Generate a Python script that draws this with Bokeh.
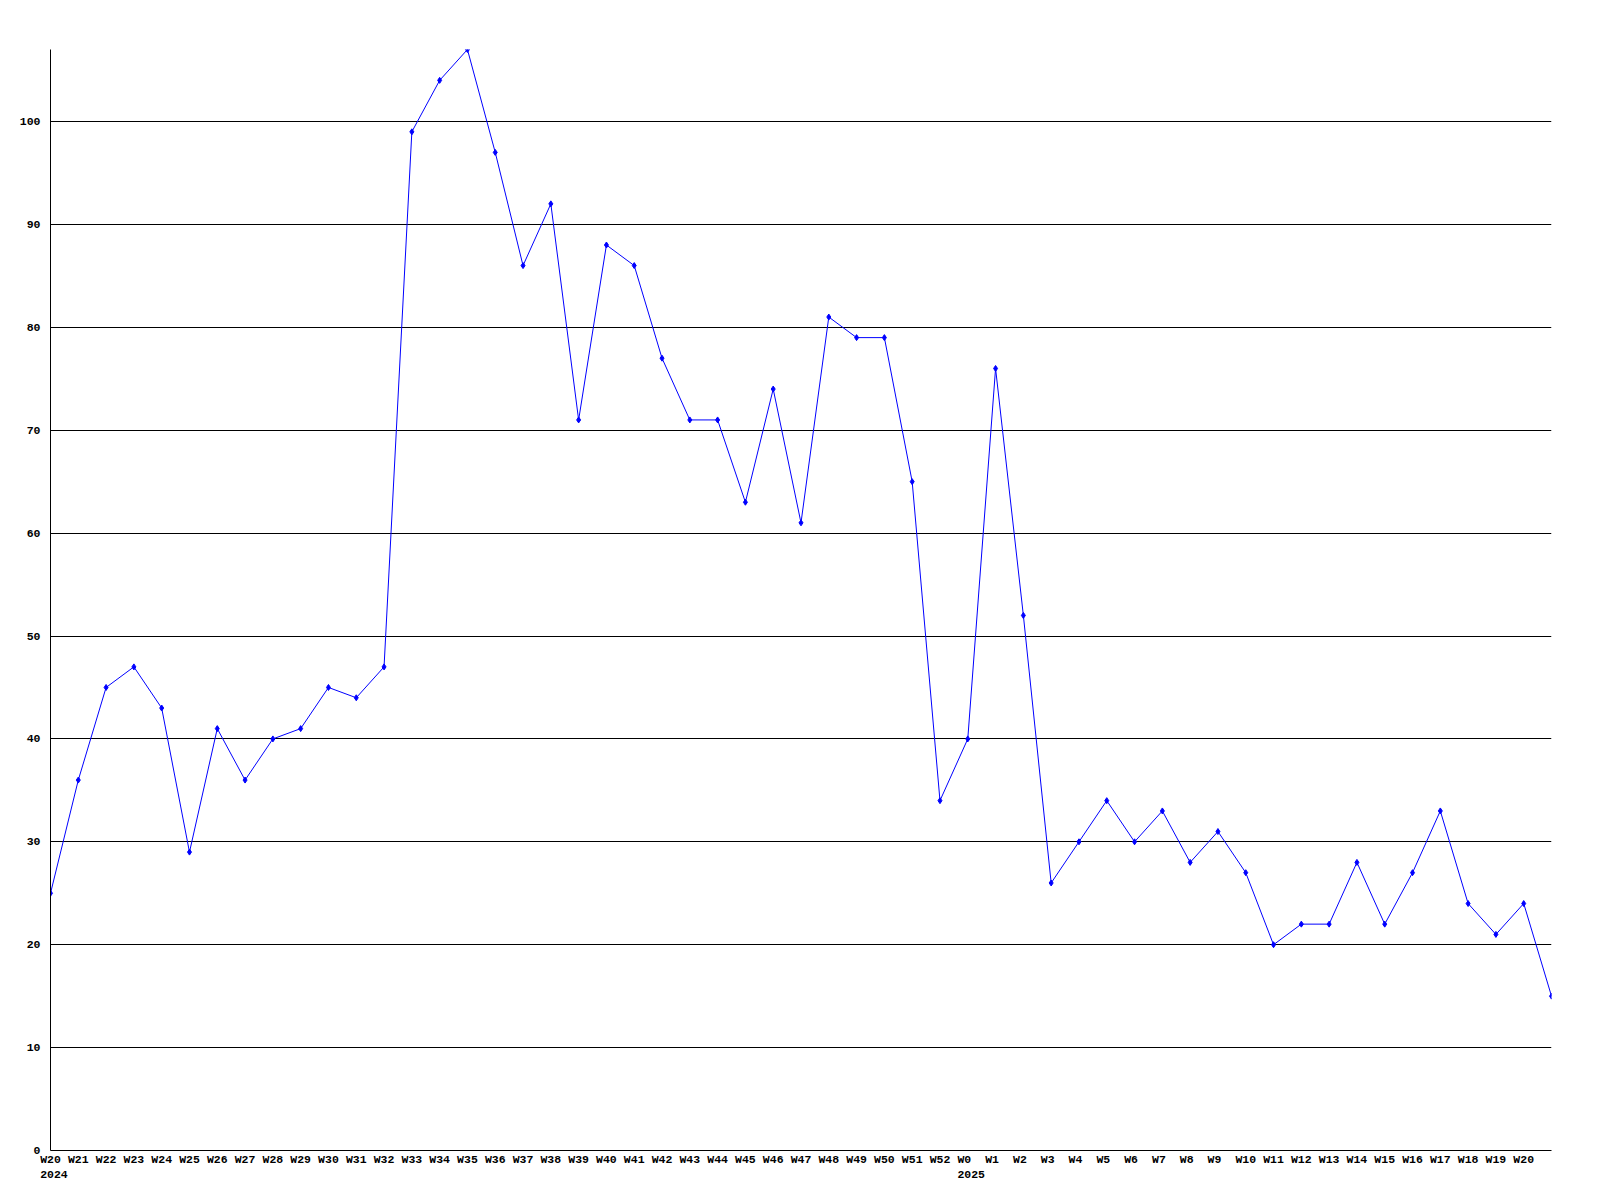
from bokeh.plotting import figure
from bokeh.models import Range1d, FixedTicker
from bokeh.embed import file_html
from bokeh.resources import INLINE

weeks = ["W20", "W21", "W22", "W23", "W24", "W25", "W26", "W27", "W28", "W29", "W30",
         "W31", "W32", "W33", "W34", "W35", "W36", "W37", "W38", "W39", "W40", "W41",
         "W42", "W43", "W44", "W45", "W46", "W47", "W48", "W49", "W50", "W51", "W52",
         "W0", "W1", "W2", "W3", "W4", "W5", "W6", "W7", "W8", "W9", "W10", "W11",
         "W12", "W13", "W14", "W15", "W16", "W17", "W18", "W19", "W20", ""]
values = [25, 36, 45, 47, 43, 29, 41, 36, 40, 41, 45, 44, 47, 99, 104, 107, 97, 86, 92,
          71, 88, 86, 77, 71, 71, 63, 74, 61, 81, 79, 79, 65, 34, 40, 76, 52, 26, 30, 34,
          30, 33, 28, 31, 27, 20, 22, 22, 28, 22, 27, 33, 24, 21, 24, 15]
year_labels = {0: "2024", 33: "2025"}
y_ticks = [0, 10, 20, 30, 40, 50, 60, 70, 80, 90, 100]

xs = list(range(len(values)))

FONT = "Liberation Mono"
FSIZE = "11.5px"
NB = "\u00a0"

p = figure(width=1584, height=1184, output_backend="svg", toolbar_location=None,
           x_range=Range1d(0, len(values) - 1), y_range=Range1d(0, max(values)),
           min_border_left=50, min_border_right=33, min_border_top=49, min_border_bottom=34)
p.outline_line_color = None
p.background_fill_color = "white"
p.border_fill_color = "white"

p.xgrid.grid_line_color = None
p.ygrid.grid_line_color = "black"
p.ygrid.grid_line_alpha = 1.0
p.ygrid.grid_line_width = 1
p.ygrid.ticker = FixedTicker(ticks=y_ticks[1:])

labeled = [i for i, w in enumerate(weeks) if w]
overrides = {}
for i in labeled:
    w = weeks[i]
    lab = w if len(w) >= 3 else w + NB * (3 - len(w))
    if i in year_labels:
        lab = lab + "\n" + NB + year_labels[i]
    overrides[i] = lab

p.xaxis.ticker = FixedTicker(ticks=labeled)
p.xaxis.major_label_overrides = overrides
p.yaxis.ticker = FixedTicker(ticks=y_ticks)

for ax in (p.xaxis, p.yaxis):
    ax.axis_line_color = "black"
    ax.axis_line_width = 1
    ax.major_tick_line_color = None
    ax.minor_tick_line_color = None
    ax.major_tick_out = 0
    ax.major_tick_in = 0
    ax.major_label_text_font = FONT
    ax.major_label_text_font_style = "bold"
    ax.major_label_text_font_size = FSIZE
    ax.major_label_text_color = "black"
p.xaxis.major_label_standoff = 2
p.yaxis.major_label_standoff = 10

p.line(xs, values, line_color="#0000ff", line_width=1)
p.scatter(xs, values, marker="diamond", size=6, fill_color="#0000ff", line_color="#0000ff")

open("out.html", "w").write(file_html(p, INLINE))
